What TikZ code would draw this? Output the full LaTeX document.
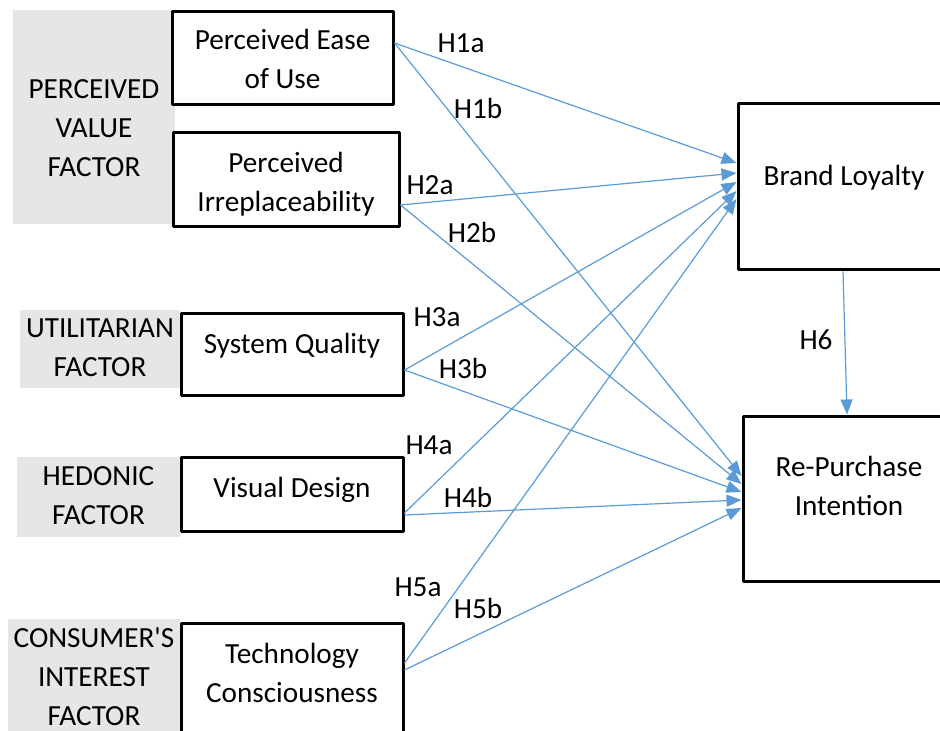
\documentclass[tikz,border=0pt]{standalone}
\usepackage{fontspec}
\setmainfont{Carlito}
\usetikzlibrary{arrows.meta}
\definecolor{linkblue}{HTML}{5B9BD5}
\definecolor{factorgray}{HTML}{E6E6E6}

\begin{document}
\begin{tikzpicture}[x=0.5pt, y=-0.5pt, >={Triangle[length=7.5pt,width=6pt]},
	line join=round, font=\fontsize{14.6}{19.5}\selectfont,
	factor/.style={fill=factorgray, align=center, inner sep=0pt},
	construct/.style={draw, fill=white, line width=1.5pt, align=center, inner sep=0pt, text height=10pt},
	link/.style={->, linkblue, line width=0.6pt},
	hyp/.style={inner sep=0pt}]
	
	\clip (0,0) rectangle (940,731);
	
	%========================
	% Left: factor groups
	%========================
	\node[factor, minimum width=81pt, minimum height=107pt, text height=59.5pt, text depth=0pt] (pvf) at (94,117) {PERCEIVED\\VALUE\\FACTOR};
	\node[factor, minimum width=80pt, minimum height=39pt, text height=29.5pt, text depth=2pt] (uf) at (100,349) {UTILITARIAN\\FACTOR};
	\node[factor, minimum width=81.5pt, minimum height=40pt, text height=29.5pt, text depth=2pt] (hf) at (98.5,497) {HEDONIC\\FACTOR};
	\node[factor, minimum width=86pt, minimum height=58pt, text height=49pt, text depth=1pt] (cif) at (94,677) {CONSUMER\textquotesingle S\\INTEREST\\FACTOR};
	
	% constructs
	\node[construct, minimum width=110.5pt, minimum height=46.5pt, text height=30.5pt, text depth=0pt] (peu) at (282.5,58.5) {Perceived Ease\\of Use};
	\node[construct, minimum width=113pt, minimum height=47pt, text height=31.5pt, text depth=0pt] (pi) at (286,180) {Perceived\\Irreplaceability};
	\node[construct, minimum width=111pt, minimum height=40.5pt, text depth=10.5pt] (sq) at (292,354.5) {System Quality};
	\node[construct, minimum width=111pt, minimum height=37pt, text depth=7pt] (vd) at (292,494) {Visual Design};
	\node[construct, minimum width=111pt, minimum height=68.5pt, text height=29.5pt, text depth=18.5pt] (tc) at (292,691.5) {Technology\\Consciousness};
	
	%========================
	% Right: outcomes
	%========================
	\node[construct, minimum width=106pt, minimum height=83pt, text depth=11pt] (bl) at (844,187) {Brand Loyalty};
	\node[construct, minimum width=106pt, minimum height=82.5pt, text height=29.5pt, text depth=12.5pt] (rpi) at (849,498.5) {Re-Purchase\\Intention};
	
	% hypotheses towards brand loyalty
	\draw[link] ([yshift=7.75pt]peu.east) -- ([yshift=12pt]bl.west);
	\draw[link] ([yshift=-12.5pt]pi.east) -- ([yshift=7pt]bl.west);
	\draw[link] ([yshift=-7.75pt]sq.east) -- ([yshift=2.5pt]bl.west);
	\draw[link] ([yshift=-9.5pt]vd.east) -- ([yshift=-2pt]bl.west);
	\draw[link] ([yshift=14.25pt]tc.east) -- ([yshift=-6pt]bl.west);
	
	% hypotheses towards re-purchase intention
	\draw[link] ([yshift=7.75pt]peu.east) -- ([yshift=11.25pt]rpi.west);
	\draw[link] ([yshift=-12.5pt]pi.east) -- ([yshift=7.25pt]rpi.west);
	\draw[link] ([yshift=-7.75pt]sq.east) -- ([yshift=3.25pt]rpi.west);
	\draw[link] ([yshift=-10.5pt]vd.east) -- ([yshift=-0.75pt]rpi.west);
	\draw[link] ([yshift=10.75pt]tc.east) -- ([yshift=-4.75pt]rpi.west);
	
	\draw[link] ([xshift=-0.5pt]bl.south) -- ([xshift=-1pt]rpi.north);
	
	% labels
	\node[hyp] (h1a) at (461,43) {H1a};
	\node[hyp] (h1b) at (478,108) {H1b};
	\node[hyp] (h2a) at (430,185) {H2a};
	\node[hyp] (h2b) at (472,232) {H2b};
	\node[hyp] (h3a) at (437,317) {H3a};
	\node[hyp] (h3b) at (463,368) {H3b};
	\node[hyp] (h4a) at (429,445) {H4a};
	\node[hyp] (h4b) at (468,497) {H4b};
	\node[hyp] (h5a) at (418,587) {H5a};
	\node[hyp] (h5b) at (478,608) {H5b};
	\node[hyp] (h6) at (816,340) {H6};
	
\end{tikzpicture}
\end{document}
